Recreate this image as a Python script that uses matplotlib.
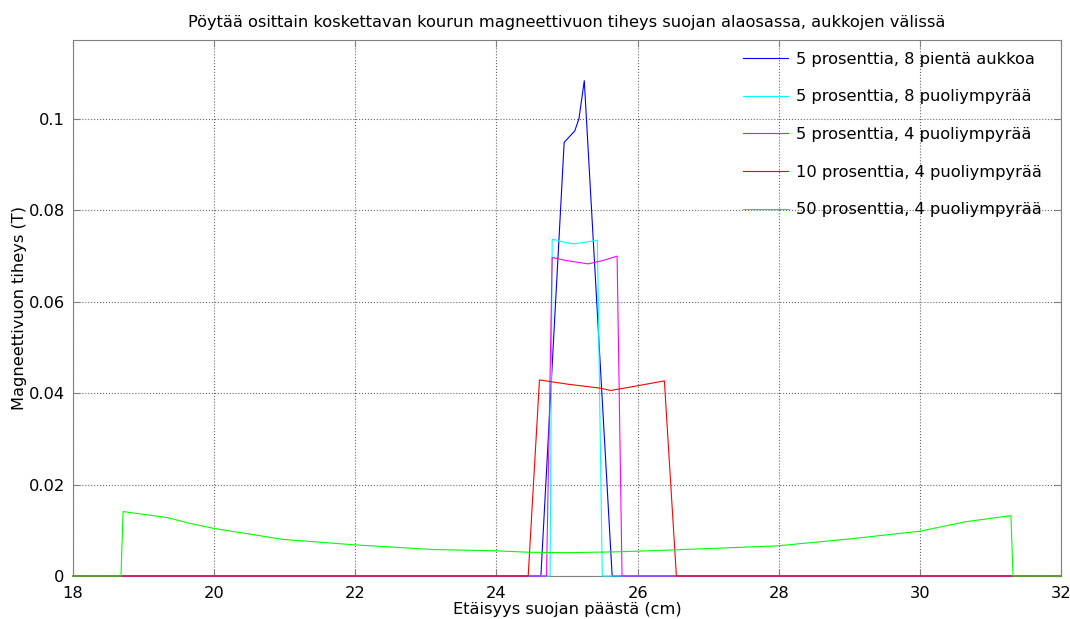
import matplotlib
matplotlib.use('Agg')
import matplotlib.pyplot as plt
import numpy as np

#%% data
x_blue = [18, 24.63, 24.96, 25.11, 25.17, 25.245, 25.64, 32]
y_blue = [0, 0, 0.0949, 0.0974, 0.1001, 0.1084, 0, 0]

x_cyan = [18, 24.76, 24.79, 24.95, 25.09, 25.25, 25.43, 25.50, 32]
y_cyan = [0, 0, 0.0737, 0.0731, 0.0727, 0.0730, 0.0735, 0, 0]

x_mag = [18, 24.71, 24.79, 25.0, 25.3, 25.5, 25.71, 25.78, 32]
y_mag = [0, 0, 0.0697, 0.0690, 0.0683, 0.0690, 0.0700, 0, 0]

x_red = [18, 24.45, 24.61, 25.0, 25.47, 25.62, 25.99, 26.38, 26.55, 32]
y_red = [0, 0, 0.0429, 0.0420, 0.0411, 0.0406, 0.0416, 0.0427, 0, 0]

x_green = [18, 18.68, 18.71, 19.33, 19.66, 20.0, 20.98, 22.0, 23.1, 24.0, 24.45,
           25.0, 25.75, 26.5, 27.99, 29.06, 30.0, 30.66, 31.29, 31.32, 32]
y_green = [0, 0, 0.0141, 0.0128, 0.0115, 0.0104, 0.0080, 0.0068, 0.0058, 0.0055, 0.0052,
           0.0051, 0.0053, 0.0057, 0.0066, 0.0082, 0.0098, 0.0119, 0.0132, 0, 0]

labels = ['5 prosenttia, 8 pientä aukkoa',
          '5 prosenttia, 8 puoliympyrää',
          '5 prosenttia, 4 puoliympyrää',
          '10 prosenttia, 4 puoliympyrää',
          '50 prosenttia, 4 puoliympyrää']

#%%
fs = 11.7
fig = plt.figure(figsize=(10.7, 6.19), dpi=100)
ax = fig.add_axes([0.0682, 0.0695, 0.9234, 0.8659])

ax.plot(x_blue, y_blue, c='#0000ff', linewidth=0.8, label=labels[0], clip_on=False, zorder=3)
ax.plot(x_cyan, y_cyan, c='#00ffff', linewidth=0.8, label=labels[1], clip_on=False, zorder=3)
ax.plot(x_mag, y_mag, c='#ff00ff', linewidth=0.8, label=labels[2], clip_on=False, zorder=3)
ax.plot(x_red, y_red, c='#ff0000', linewidth=0.8, label=labels[3], clip_on=False, zorder=3)
ax.plot(x_green, y_green, c='#00ff00', linewidth=0.8, label=labels[4], clip_on=False, zorder=3)

ax.set_xlim(18, 32)
ax.set_ylim(0, 0.1173)
ax.set_xticks(np.arange(18, 33, 2))
ax.set_yticks([0, 0.02, 0.04, 0.06, 0.08, 0.1])
ax.set_yticklabels(['0', '0.02', '0.04', '0.06', '0.08', '0.1'])
ax.grid(True, linestyle=':', color='black', linewidth=0.8, alpha=0.6)
ax.tick_params(direction='in', top=True, right=True, labelsize=fs, length=5, color='#808080')
ax.tick_params(axis='x', pad=7)
ax.tick_params(axis='y', pad=6)
for s in ax.spines.values():
    s.set_color('#808080')

ax.set_title('Pöytää osittain koskettavan kourun magneettivuon tiheys suojan alaosassa, aukkojen välissä',
             fontsize=fs, pad=9)
ax.set_xlabel('Etäisyys suojan päästä (cm)', fontsize=fs, labelpad=1)
ax.set_ylabel('Magneettivuon tiheys (T)', fontsize=fs, labelpad=1)

leg = ax.legend(loc='upper right', bbox_to_anchor=(0.9875, 0.990), frameon=False, fontsize=fs,
                labelspacing=1.39, handlelength=2.8, handletextpad=0.5, borderaxespad=0)

plt.savefig('out.png', dpi=100)
